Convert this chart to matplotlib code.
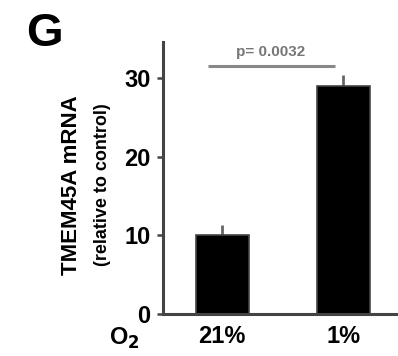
import matplotlib.pyplot as plt

plt.rcParams["font.family"] = ["Liberation Sans", "DejaVu Sans"]
plt.rcParams["font.weight"] = "bold"

# data
conditions = ["21%", "1%"]
values = [10.1, 29.0]
errors = [1.2, 1.4]
p_text = "p= 0.0032"
ylabel_lines = ["TMEM45A mRNA", "(relative to control)"]
yticks = [0, 10, 20, 30]

fig = plt.figure(figsize=(3.98, 3.56), dpi=100)
ax = fig.add_axes([0.41, 0.118, 0.59, 0.764])

x = range(len(conditions))
ax.bar(x, values, width=0.44, color="black", edgecolor="#444444", linewidth=1.2, zorder=2)
ax.vlines(x, values, [v + e for v, e in zip(values, errors)], color="#666666", linewidth=2, zorder=1)

# significance bar
ax.plot([-0.12, 0.93], [31.5, 31.5], color="#888888", linewidth=2.2, solid_capstyle="butt")
ax.text(0.4, 32.4, p_text, ha="center", va="bottom", fontsize=11, color="#777777")

ax.set_xlim(-0.488, 1.454)
ax.set_ylim(0, 34.6)
ax.set_yticks(yticks)
ax.set_xticks(list(x))
ax.set_xticklabels(conditions)
ax.tick_params(axis="y", length=4, width=1.8, color="#444444", labelsize=17, pad=5)
ax.tick_params(axis="x", length=0, labelsize=17, pad=8)
for lbl in ax.get_yticklabels() + ax.get_xticklabels():
    lbl.set_fontweight("bold")

for side in ["top", "right"]:
    ax.spines[side].set_visible(False)
for side in ["left", "bottom"]:
    ax.spines[side].set_color("#444444")
    ax.spines[side].set_linewidth(2.2)

fig.text(0.18, 0.48, ylabel_lines[0], rotation=90, ha="center", va="center", fontsize=16)
fig.text(0.258, 0.48, ylabel_lines[1], rotation=90, ha="center", va="center", fontsize=13)
fig.text(0.275, 0.05, "O$_2$", ha="left", va="center", fontsize=17)
fig.text(0.065, 0.905, "G", ha="left", va="center", fontsize=34)

fig.savefig("out.png", dpi=100)
